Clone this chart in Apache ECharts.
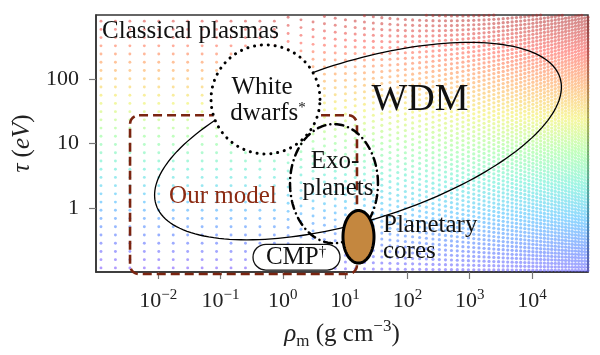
<!DOCTYPE html>
<html>
<head>
<meta charset="utf-8">
<script src="https://cdn.jsdelivr.net/npm/echarts@6/dist/echarts.min.js"></script>
<style>html,body{margin:0;padding:0;background:#fff}#c{width:600px;height:355px}</style>
</head>
<body>
<div id="c"></div>
<script>
// ---- axis ticks (exponents of ten) ----
const rhoTickExp = [-2, -1, 0, 1, 2, 3, 4];
const tauTickExp = [0, 1, 2];

// ---- regions drawn as ellipses (centre in real units, half-axes in decades) ----
const shapeNames = ['WDM', 'White dwarfs', 'Exoplanets', 'Planetary cores'];
const shapeRho = [16.1, 0.527, 6.63, 16.4];
const shapeTau = [10.9, 48.6, 2.37, 0.353];
const shapeAxisA = [[3.243, 0.988], [0.875, 0], [0.706, 0], [0.249, 0]];
const shapeAxisB = [[0.389, -1.177], [0, 0.849], [0, 0.927], [0, 0.409]];

// ---- boxes ----
const modelRho = [0.00352, 15.5];
const modelTau = [0.093, 27.5];
const cmpRho = [0.332, 8.28];
const cmpTau = [0.107, 0.270];

// ---- annotation texts ----
const labelText = ['Classical plasmas', 'White', 'dwarfs{sp|*}', 'WDM', 'Exo-', 'planets', 'Our model', 'Planetary', 'cores', 'CMP{sp|†}'];
const labelRho = [0.00125, 0.462, 0.578, 159, 6.89, 7.69, 0.109, 40.6, 40.6, 1.63];
const labelTau = [546, 74.6, 29.6, 47.0, 5.18, 1.98, 1.49, 0.532, 0.211, 0.171];

// ---- background sampling grid (log10 rho range, log10 tau range) ----
const gridRhoRange = [-3, 4.9];
const gridTauRange = [-1, 3];

const L = Math.log10;
const dots = [];
(function () {
  let lx = gridRhoRange[0] + 0.08;
  while (lx < gridRhoRange[1]) {
    const dx = lx < -0.3 ? 0.232 : 0.232 * Math.exp(-(lx + 0.3) / 3.3);
    const dy = lx < 0 ? 0.128 : 0.128 * Math.exp(-lx / 5.0);
    for (let ly = gridTauRange[0] + dy / 2; ly < gridTauRange[1]; ly += dy) {
      dots.push([lx, ly, ly + 0.04 * (lx + 3), lx]);
    }
    lx += dx;
  }
})();

const FONT = 'Liberation Serif';

function ellipsePts(api, i) {
  const cx = L(shapeRho[i]), cy = L(shapeTau[i]);
  const a = shapeAxisA[i], b = shapeAxisB[i];
  const pts = [];
  const n = 180;
  for (let k = 0; k < n; k++) {
    const t = 2 * Math.PI * k / n;
    pts.push(api.coord([cx + a[0] * Math.cos(t) + b[0] * Math.sin(t), cy + a[1] * Math.cos(t) + b[1] * Math.sin(t)]));
  }
  return pts;
}

function shapeSeries(i, z, style) {
  return {
    type: 'custom', coordinateSystem: 'cartesian2d', z: z, silent: true, clip: false,
    data: [[L(shapeRho[i]), L(shapeTau[i])]],
    renderItem: function (params, api) {
      return { type: 'polygon', shape: { points: ellipsePts(api, i) }, style: style };
    }
  };
}

function boxSeries(rho, tau, z, r, style) {
  return {
    type: 'custom', coordinateSystem: 'cartesian2d', z: z, silent: true, clip: false,
    data: [[L(rho[0]), L(tau[0])]],
    renderItem: function (params, api) {
      const p1 = api.coord([L(rho[0]), L(tau[1])]);
      const p2 = api.coord([L(rho[1]), L(tau[0])]);
      return { type: 'rect', shape: { x: p1[0], y: p1[1], width: p2[0] - p1[0], height: p2[1] - p1[1], r: r }, style: style };
    }
  };
}

const labelStyles = [
  { size: 25, color: '#111', align: 'left' },
  { size: 25, color: '#111', align: 'center' },
  { size: 25, color: '#111', align: 'center' },
  { size: 38, color: '#111', align: 'center' },
  { size: 25, color: '#111', align: 'center' },
  { size: 25, color: '#111', align: 'center' },
  { size: 25, color: '#8b2a12', align: 'center' },
  { size: 25, color: '#111', align: 'left' },
  { size: 25, color: '#111', align: 'left' },
  { size: 25, color: '#111', align: 'center' }
];

const textSeries = {
  type: 'custom', coordinateSystem: 'cartesian2d', z: 10, silent: true, clip: false,
  data: labelText.map((t, i) => [L(labelRho[i]), L(labelTau[i])]),
  renderItem: function (params, api) {
    const i = params.dataIndex;
    const p = api.coord([api.value(0), api.value(1)]);
    const s = labelStyles[i];
    return {
      type: 'text', x: p[0], y: p[1],
      style: {
        text: labelText[i], fontFamily: FONT, fontSize: s.size, fill: s.color,
        align: s.align, verticalAlign: 'middle',
        rich: { sp: { fontFamily: FONT, fontSize: 15, lineHeight: 14, verticalAlign: 'top', fill: s.color } }
      }
    };
  }
};

const chart = echarts.init(document.getElementById('c'), null, { renderer: 'canvas' });
chart.setOption({
  animation: false,
  backgroundColor: '#fff',
  grid: { left: 96, right: 12, top: 15, bottom: 81, show: true, borderColor: '#333', borderWidth: 1.5, backgroundColor: 'transparent' },
  visualMap: {
    show: false, type: 'continuous', seriesIndex: 0, dimension: 2, min: -0.9, max: 3.25,
    inRange: { color: ['#7248ff', '#4470ff', '#38b8ff', '#52ecd0', '#90ff88', '#f0f050', '#ff9e48', '#ff5048', '#b02c2c'] }
  },
  xAxis: {
    type: 'value', min: gridRhoRange[0], max: gridRhoRange[1],
    splitLine: { show: false },
    axisLine: { onZero: false, lineStyle: { color: '#333', width: 1.5 } },
    axisTick: { customValues: rhoTickExp, length: 7, lineStyle: { color: '#777', width: 1.2 } },
    axisLabel: {
      customValues: rhoTickExp, margin: 16,
      formatter: v => '{b|10}{s|' + (v < 0 ? '\u2212' : '') + Math.abs(v) + '}',
      rich: {
        b: { fontFamily: FONT, fontSize: 22, lineHeight: 26, color: '#222' },
        s: { fontFamily: FONT, fontSize: 15, lineHeight: 14, verticalAlign: 'top', color: '#222' }
      }
    },
    name: '{i|\u03c1}{sub|m}{n| (g cm}{sup|\u22123}{n|)}',
    nameLocation: 'middle', nameGap: 46,
    nameTextStyle: {
      rich: {
        i: { fontFamily: FONT, fontSize: 25, fontStyle: 'italic', lineHeight: 32, color: '#222' },
        n: { fontFamily: FONT, fontSize: 25, lineHeight: 32, color: '#222' },
        sub: { fontFamily: FONT, fontSize: 17, lineHeight: 18, verticalAlign: 'bottom', color: '#222' },
        sup: { fontFamily: FONT, fontSize: 17, lineHeight: 14, verticalAlign: 'top', color: '#222' }
      }
    }
  },
  yAxis: {
    type: 'value', min: gridTauRange[0], max: gridTauRange[1],
    splitLine: { show: false },
    axisLine: { onZero: false, lineStyle: { color: '#333', width: 1.5 } },
    axisTick: { customValues: tauTickExp, length: 7, lineStyle: { color: '#777', width: 1.2 } },
    axisLabel: {
      customValues: tauTickExp, margin: 17,
      formatter: v => String(Math.round(Math.pow(10, v))),
      fontFamily: FONT, fontSize: 22, color: '#222'
    },
    name: '{i|\u03c4}{n| (}{i|eV}{n|)}',
    nameLocation: 'middle', nameGap: 59, nameRotate: 90,
    nameTextStyle: {
      rich: {
        i: { fontFamily: FONT, fontSize: 25, fontStyle: 'italic', color: '#222' },
        n: { fontFamily: FONT, fontSize: 25, color: '#222' }
      }
    }
  },
  series: [
    {
      type: 'scatter', data: dots, symbol: 'circle', z: 1, silent: true,
      symbolSize: v => 2.9 + 0.1 * Math.max(0, v[3]),
      itemStyle: { opacity: 0.55 }, clip: true
    },
    shapeSeries(0, 2, { fill: 'none', stroke: '#000', lineWidth: 1.3 }),
    boxSeries(modelRho, modelTau, 3, 9, { fill: 'none', stroke: '#7a2410', lineWidth: 2.6, lineDash: [9, 5] }),
    shapeSeries(2, 4, { fill: 'none', stroke: '#000', lineWidth: 2.5, lineDash: [8, 5, 0.1, 5], lineCap: 'round' }),
    shapeSeries(1, 5, { fill: '#fff', stroke: '#000', lineWidth: 3, lineDash: [0.1, 6.8], lineCap: 'round' }),
    boxSeries(cmpRho, cmpTau, 6, 13, { fill: '#fff', stroke: '#111', lineWidth: 1.3 }),
    shapeSeries(3, 7, { fill: '#c4873f', stroke: '#000', lineWidth: 3 }),
    textSeries
  ]
});
</script>
</body>
</html>
